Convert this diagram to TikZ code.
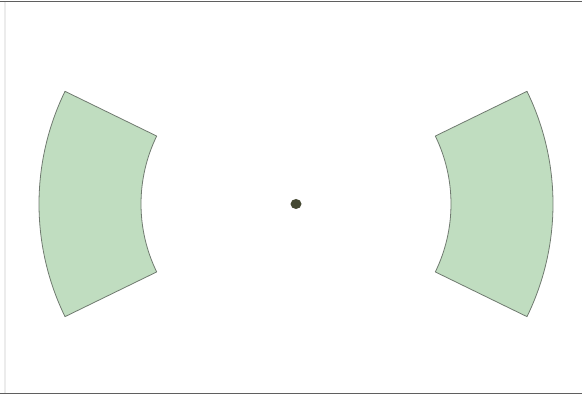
\documentclass[tikz,border=0pt]{standalone}
\usetikzlibrary{calc}
\definecolor{sectorgreen}{RGB}{192,221,192}
\definecolor{edgegray}{RGB}{112,122,112}
\definecolor{dotolive}{RGB}{68,72,50}
\definecolor{framegray}{RGB}{95,95,95}
\tikzset{
  sector/.style={fill=sectorgreen,draw=edgegray,line width=0.8pt,line join=round},
  frameline/.style={draw=framegray,line width=1.5pt}
}

\begin{document}
\begin{tikzpicture}
  \useasboundingbox (0,0) rectangle (582pt,395pt);
  % frame
  \coordinate (tl) at (0,393.5pt);
  \coordinate (tr) at (582pt,393.5pt);
  \coordinate (bl) at (0,1.5pt);
  \coordinate (br) at (582pt,1.5pt);
  \draw[frameline] (tl) -- (tr);
  \draw[frameline] (bl) -- (br);
  \draw[gray!15,line width=1.5pt] (5pt,393pt) -- (5pt,2pt);
  % sectors round the centre
  \coordinate (ctr) at (296pt,191pt);
  \foreach \m [evaluate=\m as \a using \m-26, evaluate=\m as \b using \m+26] in {180,0}{
    \draw[sector] ($(ctr)+(\a:155pt)$) -- ($(ctr)+(\a:257pt)$)
      arc[start angle=\a,end angle=\b,radius=257pt]
      -- ($(ctr)+(\b:155pt)$)
      arc[start angle=\b,end angle=\a,radius=155pt] -- cycle;
  }
  \fill[dotolive] (ctr) ellipse (5.5pt and 5pt);
\end{tikzpicture}
\end{document}
